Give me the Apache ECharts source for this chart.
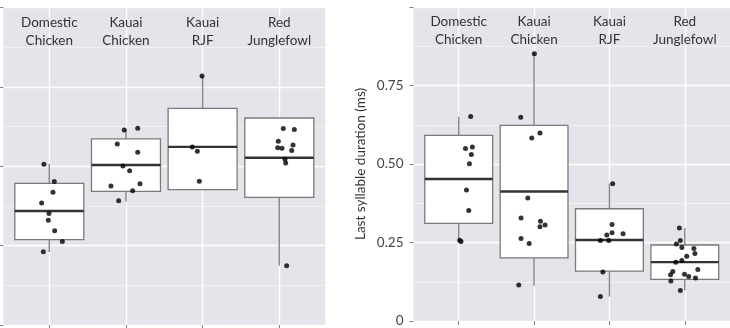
<!DOCTYPE html>
<html>
<head>
<meta charset="utf-8">
<script src="https://cdn.jsdelivr.net/npm/echarts@6/dist/echarts.min.js"></script>
<style>
html,body{margin:0;padding:0;background:#fff;}
#chart{width:730px;height:328px;}
</style>
</head>
<body>
<div id="chart"></div>
<script>
// ---- data ----
const categories = ['Domestic\nChicken', 'Kauai\nChicken', 'Kauai\nRJF', 'Red\nJunglefowl'];
const categoryPositions = [1, 2, 3, 4];
const yTicks = [0, 0.25, 0.5, 0.75, 1];
const rightAxisName = 'Last syllable duration (ms)';

// box stats per category: [whisker low, Q1, median, Q3, whisker high]
const leftBoxStats = [
  [0.230, 0.269, 0.359, 0.446, 0.507],
  [0.389, 0.421, 0.504, 0.586, 0.614],
  [0.4265, 0.4265, 0.561, 0.682, 0.784],
  [0.187, 0.402, 0.527, 0.652, 0.652]
];
const rightBoxStats = [
  [0.255, 0.311, 0.452, 0.591, 0.651],
  [0.1125, 0.201, 0.4125, 0.623, 0.851],
  [0.078, 0.159, 0.258, 0.3575, 0.4375],
  [0.097, 0.1325, 0.1875, 0.242, 0.296]
];

// individual observations (values) and horizontal jitter (category units)
const leftValues = [
  [0.506, 0.452, 0.418, 0.384, 0.351, 0.330, 0.297, 0.263, 0.231],
  [0.614, 0.620, 0.570, 0.544, 0.501, 0.486, 0.438, 0.445, 0.423, 0.391],
  [0.784, 0.561, 0.547, 0.453],
  [0.619, 0.616, 0.579, 0.558, 0.557, 0.567, 0.550, 0.522, 0.510, 0.187]
];
const leftJitter = [
  [-0.07, 0.065, 0.048, -0.10, -0.004, -0.013, 0.07, 0.17, -0.078],
  [-0.022, 0.153, -0.113, 0.153, -0.039, 0.048, -0.196, 0.183, 0.087, -0.095],
  [-0.008, -0.134, -0.069, -0.043],
  [0.052, 0.196, -0.013, -0.021, 0.035, 0.179, 0.162, 0.074, 0.083, 0.096]
];
const rightValues = [
  [0.651, 0.549, 0.554, 0.530, 0.501, 0.417, 0.352, 0.2575, 0.253],
  [0.851, 0.649, 0.5825, 0.599, 0.392, 0.328, 0.318, 0.306, 0.300, 0.2625, 0.247, 0.115],
  [0.4375, 0.3075, 0.274, 0.281, 0.278, 0.256, 0.256, 0.156, 0.078],
  [0.296, 0.256, 0.245, 0.234, 0.231, 0.215, 0.206, 0.193, 0.187, 0.164, 0.158, 0.147, 0.149, 0.142, 0.137, 0.127, 0.097]
];
const rightJitter = [
  [0.159, 0.090, 0.181, 0.168, 0.142, 0.103, 0.133, 0.013, 0.030],
  [0.004, -0.177, -0.031, 0.078, -0.083, -0.173, 0.085, 0.146, 0.078, -0.173, -0.065, -0.203],
  [0.043, 0.035, -0.035, 0.035, 0.181, -0.120, -0.009, -0.087, -0.120],
  [-0.072, -0.059, -0.111, -0.039, 0.121, 0.134, 0.026, -0.039, -0.120, 0.173, -0.159, -0.189, -0.004, 0.052, 0.142, -0.185, -0.059]
];

// ---- build ----
const FONT = 'Lato';
const PANEL_BG = '#e4e4ea';

function boxData(stats) {
  return stats.map((s, i) => [categoryPositions[i]].concat(s));
}
function pointData(values, jitter) {
  const out = [];
  values.forEach((arr, i) => arr.forEach((v, j) => out.push([categoryPositions[i] + jitter[i][j], v])));
  return out;
}
function renderBox(params, api) {
  const x = api.value(0);
  const lo = api.coord([x, api.value(1)]);
  const q1 = api.coord([x, api.value(2)]);
  const med = api.coord([x, api.value(3)]);
  const q3 = api.coord([x, api.value(4)]);
  const hi = api.coord([x, api.value(5)]);
  const half = api.size([0.9, 0])[0] / 2;
  const whisker = {stroke: '#8a8a8a', lineWidth: 1.5};
  return {
    type: 'group',
    children: [
      {type: 'line', shape: {x1: lo[0], y1: lo[1], x2: q1[0], y2: q1[1]}, style: whisker},
      {type: 'line', shape: {x1: q3[0], y1: q3[1], x2: hi[0], y2: hi[1]}, style: whisker},
      {type: 'rect', shape: {x: q3[0] - half, y: q3[1], width: half * 2, height: q1[1] - q3[1]},
        style: {fill: '#ffffff', stroke: '#7a7a7a', lineWidth: 1.3}},
      {type: 'line', shape: {x1: med[0] - half, y1: med[1], x2: med[0] + half, y2: med[1]},
        style: {stroke: '#333333', lineWidth: 2.4}}
    ]
  };
}

function bottomXAxis(gridIndex) {
  return {
    type: 'value', gridIndex, min: 0.4, max: 4.6, position: 'bottom',
    axisLine: {show: false},
    axisTick: {show: true, length: 4, customValues: categoryPositions, lineStyle: {color: '#7f7f7f'}},
    axisLabel: {show: false},
    splitLine: {show: true, lineStyle: {color: '#ffffff', width: 1.4}}
  };
}
function topXAxis(gridIndex) {
  return {
    type: 'value', gridIndex, min: 0.4, max: 4.6, position: 'top',
    axisLine: {show: false}, axisTick: {show: false}, splitLine: {show: false},
    axisLabel: {
      show: true, inside: true, margin: 6, customValues: categoryPositions,
      formatter: v => categories[Math.round(v) - 1],
      fontFamily: FONT, fontSize: 13.5, lineHeight: 18, color: '#333333', align: 'center'
    }
  };
}
function yAxis(gridIndex, showLabels) {
  return {
    type: 'value', gridIndex, min: 0, max: 1, interval: 0.25,
    axisLine: {show: false},
    axisTick: {show: true, length: 4, lineStyle: {color: '#7f7f7f'}},
    axisLabel: {
      show: showLabels, margin: 10, fontFamily: FONT, fontSize: 13.5, color: '#444444',
      formatter: v => (v === 0 ? '0' : (v >= 1 ? '' : v.toFixed(2)))
    },
    splitLine: {show: true, lineStyle: {color: '#ffffff', width: 1.4}},
    minorTick: {show: false, splitNumber: 2},
    minorSplitLine: {show: true, lineStyle: {color: '#f1f1f4', width: 1}}
  };
}

const chart = echarts.init(document.getElementById('chart'), null, {renderer: 'canvas'});
chart.setOption({
  animation: false,
  textStyle: {fontFamily: FONT},
  grid: [
    {left: 3.3, top: 7.5, width: 322, height: 317.5, show: true, backgroundColor: PANEL_BG, borderWidth: 0, containLabel: false},
    {left: 413.5, top: 7, width: 325.2, height: 320, show: true, backgroundColor: PANEL_BG, borderWidth: 0, containLabel: false}
  ],
  xAxis: [bottomXAxis(0), topXAxis(0), bottomXAxis(1), topXAxis(1)],
  yAxis: [
    yAxis(0, false),
    Object.assign(yAxis(1, true), {
      name: rightAxisName, nameLocation: 'middle', nameGap: 46,
      nameTextStyle: {fontFamily: FONT, fontSize: 13.5, color: '#333333'}
    })
  ],
  series: [
    {type: 'custom', xAxisIndex: 0, yAxisIndex: 0, data: boxData(leftBoxStats), renderItem: renderBox,
      encode: {x: 0, y: [1, 2, 3, 4, 5]}, z: 2},
    {type: 'scatter', xAxisIndex: 0, yAxisIndex: 0, data: pointData(leftValues, leftJitter),
      symbolSize: 5, itemStyle: {color: '#000000'}, z: 3},
    {type: 'custom', xAxisIndex: 2, yAxisIndex: 1, data: boxData(rightBoxStats), renderItem: renderBox,
      encode: {x: 0, y: [1, 2, 3, 4, 5]}, z: 2},
    {type: 'scatter', xAxisIndex: 2, yAxisIndex: 1, data: pointData(rightValues, rightJitter),
      symbolSize: 5, itemStyle: {color: '#000000'}, z: 3}
  ]
});
</script>
</body>
</html>
